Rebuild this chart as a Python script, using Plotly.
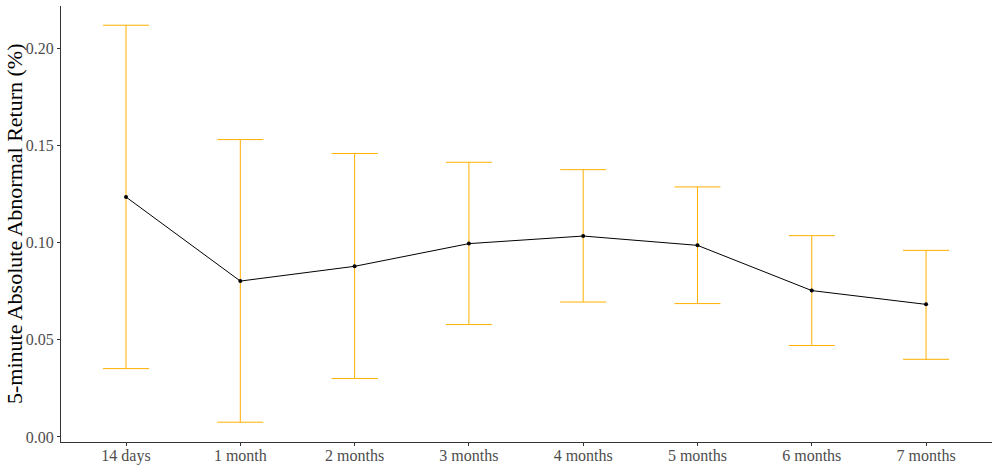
import plotly.graph_objects as go

# Horizons and mean 5-minute absolute abnormal return with confidence bounds (%)
horizons = ["14 days", "1 month", "2 months", "3 months", "4 months", "5 months", "6 months", "7 months"]
mean_ret = [0.1236, 0.0803, 0.0879, 0.0996, 0.1035, 0.0987, 0.0754, 0.0683]
upper_ci = [0.2121, 0.1532, 0.1460, 0.1415, 0.1377, 0.1288, 0.1037, 0.0961]
lower_ci = [0.0352, 0.0076, 0.0301, 0.0579, 0.0695, 0.0687, 0.0471, 0.0400]

err_plus = [u - m for u, m in zip(upper_ci, mean_ret)]
err_minus = [m - l for m, l in zip(mean_ret, lower_ci)]

FONT = "Liberation Serif"
TICK_GREY = "#4D4D4D"
AXIS_GREY = "#333333"

fig = go.Figure()

# confidence interval whiskers
fig.add_trace(go.Scatter(
    x=horizons, y=mean_ret, mode="markers",
    marker=dict(size=1, color="rgba(0,0,0,0)"),
    error_y=dict(type="data", symmetric=False, array=err_plus, arrayminus=err_minus,
                 color="#FFB000", thickness=1, width=23),
    hoverinfo="skip", showlegend=False,
))

# mean path
fig.add_trace(go.Scatter(
    x=horizons, y=mean_ret, mode="lines+markers",
    line=dict(color="black", width=1),
    marker=dict(color="black", size=4),
    showlegend=False,
))

fig.update_layout(
    width=992, height=466,
    margin=dict(l=61, r=0, t=6, b=24),
    paper_bgcolor="white", plot_bgcolor="white",
    font=dict(family=FONT, size=16, color=TICK_GREY),
    xaxis=dict(
        type="category", range=[-0.569, 7.577], automargin=False,
        showline=True, linecolor=AXIS_GREY, linewidth=1,
        ticks="outside", ticklen=3, tickcolor=AXIS_GREY,
        ticklabelstandoff=-4,
        showgrid=False, zeroline=False,
        tickfont=dict(family=FONT, size=16, color=TICK_GREY),
    ),
    yaxis=dict(
        range=[-0.0026, 0.2220], automargin=False,
        tickvals=[0.0, 0.05, 0.10, 0.15, 0.20],
        ticktext=["0.00", "0.05", "0.10", "0.15", "0.20"],
        showline=True, linecolor=AXIS_GREY, linewidth=1,
        ticks="outside", ticklen=3, tickcolor=AXIS_GREY,
        showgrid=False, zeroline=False,
        tickfont=dict(family=FONT, size=16, color=TICK_GREY),
    ),
    annotations=[dict(
        text="5-minute Absolute Abnormal Return (%)",
        xref="paper", yref="paper", x=0, y=0.5,
        xanchor="center", yanchor="middle", xshift=-47,
        textangle=-90, showarrow=False,
        font=dict(family=FONT, size=22, color="black"),
    )],
)

fig.write_html("out.html")
